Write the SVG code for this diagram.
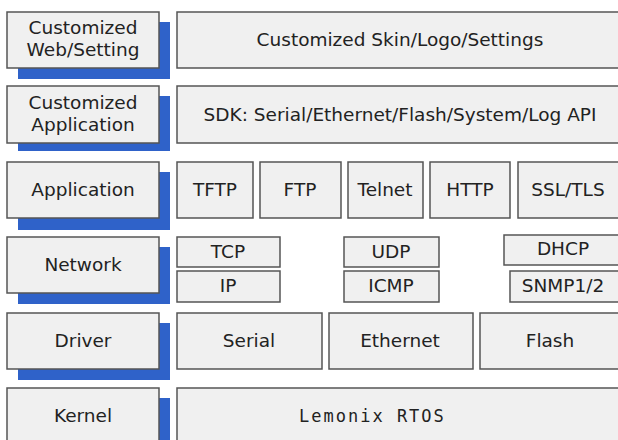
<svg xmlns="http://www.w3.org/2000/svg" width="618" height="440" viewBox="0 0 618 440">
<style>
.b{fill:#f0f0f0;stroke:#555;stroke-width:1.5}
.s{fill:#2f62c9}
text{font-family:"DejaVu Sans",Verdana,sans-serif;font-size:18.5px;fill:#222;text-anchor:middle;dominant-baseline:central}
.m{font-family:"DejaVu Sans Mono","Liberation Mono",monospace;font-size:17px;letter-spacing:2px;text-anchor:start}
</style>
<rect width="618" height="440" fill="#fff"/>
<g id="web-setting"><rect class="s" x="18" y="22" width="152" height="57"/><rect class="b" x="7" y="12" width="152" height="56"/><text x="83" y="27">Customized</text><text x="83" y="49">Web/Setting</text></g>
<g id="skin"><rect class="b" x="177" y="12" width="442" height="56"/><text x="400" y="39">Customized Skin/Logo/Settings</text></g>
<g id="cust-app"><rect class="s" x="18" y="96" width="152" height="55"/><rect class="b" x="7" y="86" width="152" height="57"/><text x="83" y="102">Customized</text><text x="83" y="124">Application</text></g>
<g id="sdk"><rect class="b" x="177" y="86" width="442" height="57"/><text x="400" y="114">SDK: Serial/Ethernet/Flash/System/Log API</text></g>
<g id="application"><rect class="s" x="18" y="172" width="152" height="58"/><rect class="b" x="7" y="162" width="152" height="56"/><text x="83" y="189">Application</text></g>
<g id="tftp"><rect class="b" x="177" y="162" width="76" height="56"/><text x="215" y="189">TFTP</text></g>
<g id="ftp"><rect class="b" x="260" y="162" width="81" height="56"/><text x="300" y="189">FTP</text></g>
<g id="telnet"><rect class="b" x="348" y="162" width="75" height="56"/><text x="385" y="189">Telnet</text></g>
<g id="http"><rect class="b" x="430" y="162" width="80" height="56"/><text x="470" y="189">HTTP</text></g>
<g id="ssl"><rect class="b" x="518" y="162" width="101" height="56"/><text x="568" y="189">SSL/TLS</text></g>
<g id="network"><rect class="s" x="18" y="247" width="152" height="57"/><rect class="b" x="7" y="237" width="152" height="56"/><text x="83" y="264">Network</text></g>
<g id="tcp"><rect class="b" x="177" y="237" width="103" height="30"/><text x="228" y="251">TCP</text></g>
<g id="ip"><rect class="b" x="177" y="271" width="103" height="31"/><text x="228" y="285">IP</text></g>
<g id="udp"><rect class="b" x="344" y="237" width="95" height="30"/><text x="391" y="251">UDP</text></g>
<g id="icmp"><rect class="b" x="344" y="271" width="95" height="31"/><text x="391" y="285">ICMP</text></g>
<g id="dhcp"><rect class="b" x="504" y="235" width="115" height="30"/><text x="563" y="248">DHCP</text></g>
<g id="snmp"><rect class="b" x="510" y="271" width="109" height="31"/><text x="563" y="285">SNMP1/2</text></g>
<g id="driver"><rect class="s" x="18" y="323" width="152" height="57"/><rect class="b" x="7" y="313" width="152" height="56"/><text x="83" y="340">Driver</text></g>
<g id="serial"><rect class="b" x="177" y="313" width="145" height="56"/><text x="249" y="340">Serial</text></g>
<g id="ethernet"><rect class="b" x="329" y="313" width="144" height="56"/><text x="400" y="340">Ethernet</text></g>
<g id="flash"><rect class="b" x="480" y="313" width="139" height="56"/><text x="550" y="340">Flash</text></g>
<g id="kernel"><rect class="s" x="18" y="398" width="152" height="57"/><rect class="b" x="7" y="388" width="152" height="60"/><text x="83" y="415">Kernel</text></g>
<g id="rtos"><rect class="b" x="177" y="388" width="442" height="60"/><text class="m" x="299" y="416">Lemonix RTOS</text></g>
</svg>
